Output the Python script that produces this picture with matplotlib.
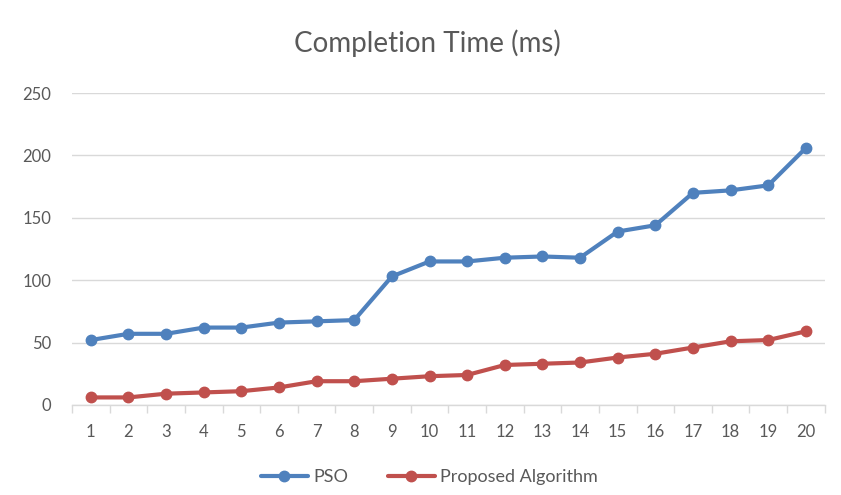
import matplotlib
matplotlib.use("Agg")
import matplotlib.pyplot as plt
import numpy as np

plt.rcParams['font.family'] = ['Lato', 'DejaVu Sans']

# Data
runs = list(range(1, 21))
pso = [52, 57, 57, 62, 62, 66, 67, 68, 103, 115, 115, 118, 119, 118, 139, 144, 170, 172, 176, 206]
proposed = [6, 6, 9, 10, 11, 14, 19, 19, 21, 23, 24, 32, 33, 34, 38, 41, 46, 51, 52, 59]

fig = plt.figure(figsize=(8.41, 4.95), dpi=100)
ax = fig.add_axes([0.0856, 0.182, 0.895, 0.63])

ax.plot(runs, pso, color='#4F81BD', lw=3, marker='o', ms=7.5, label='PSO', solid_capstyle='round')
ax.plot(runs, proposed, color='#C0504D', lw=3, marker='o', ms=7.5, label='Proposed Algorithm', solid_capstyle='round')

ax.set_xlim(0.5, 20.5)
ax.set_ylim(0, 250)
ax.set_yticks(np.arange(0, 251, 50))
ax.set_xticks(runs)
ax.set_xticks(np.arange(0.5, 21, 1), minor=True)
ax.grid(axis='y', color='#D9D9D9', lw=1)
ax.set_axisbelow(True)

for s in ['top', 'right', 'left']:
    ax.spines[s].set_visible(False)
ax.spines['bottom'].set_color('#D9D9D9')
ax.spines['bottom'].set_linewidth(1)

ax.tick_params(axis='x', which='major', length=0, pad=14, labelsize=12, labelcolor='#595959')
ax.tick_params(axis='x', which='minor', length=6, color='#D9D9D9', width=1)
ax.tick_params(axis='y', length=0, pad=15, labelsize=12, labelcolor='#595959')

fig.suptitle('Completion Time (ms)', x=0.508, y=0.94, fontsize=20, color='#595959')

leg = ax.legend(loc='upper center', bbox_to_anchor=(0.475, -0.155), ncol=2, frameon=False,
                fontsize=13, handlelength=2.6, columnspacing=2.2, handletextpad=0.3)
for t in leg.get_texts():
    t.set_color('#595959')

fig.savefig('out.png', dpi=100, facecolor='white')
